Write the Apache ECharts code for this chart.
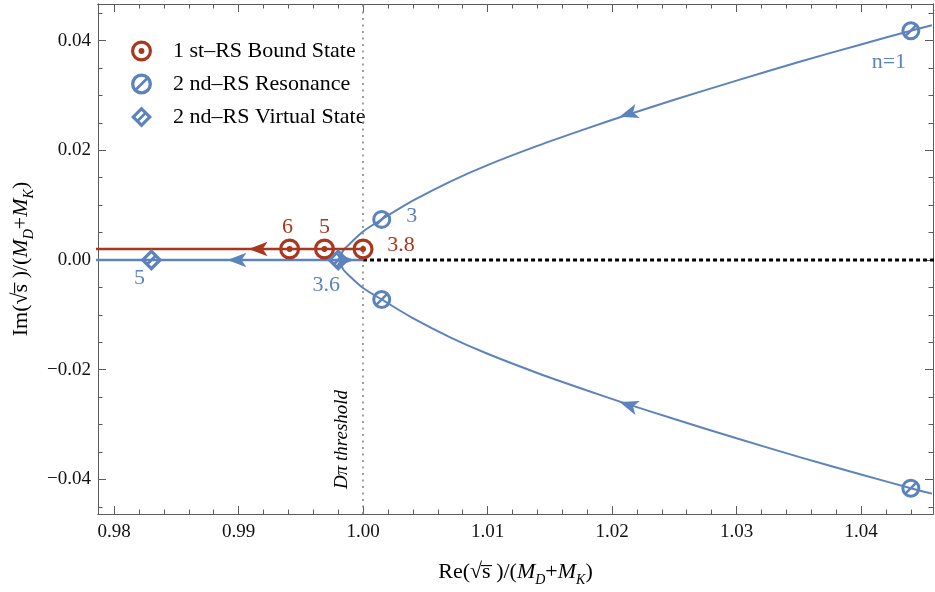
<!DOCTYPE html>
<html>
<head>
<meta charset="utf-8">
<script src="https://cdn.jsdelivr.net/npm/echarts@6/dist/echarts.min.js"></script>
<style>
html,body{margin:0;padding:0;background:#fff;}
#chart{width:935px;height:592px;}
</style>
</head>
<body>
<div id="chart"></div>
<script>
// ---------------- data ----------------
const xRange = [0.97871, 1.04578];
const yRange = [-0.04631, 0.04667];
const xTicks = [0.98, 0.99, 1.00, 1.01, 1.02, 1.03, 1.04];
const yTicks = [-0.04, -0.02, 0.00, 0.02, 0.04];
const xMinorStep = 0.002;
const yMinorStep = 0.005;
const threshold = 1.0;

// 2nd-RS resonance trajectory (upper and lower branches)
const upperX = [0.9981, 0.9984, 0.9990, 1.0000, 1.0015, 1.0040, 1.0070, 1.0100, 1.0140, 1.0180, 1.0210, 1.0250, 1.0300, 1.0350, 1.0400, 1.0440, 1.0457];
const upperY = [0.0000, 0.0017, 0.0031, 0.0052, 0.0074, 0.0108, 0.0143, 0.0173, 0.0208, 0.0240, 0.0263, 0.0292, 0.0327, 0.0361, 0.0393, 0.0418, 0.0428];
const lowerX = [0.9981, 0.9984, 0.9990, 1.0000, 1.0015, 1.0040, 1.0070, 1.0100, 1.0140, 1.0180, 1.0210, 1.0250, 1.0300, 1.0350, 1.0400, 1.0440, 1.0457];
const lowerY = [0.0000, -0.0017, -0.0031, -0.0051, -0.0072, -0.0106, -0.0141, -0.0171, -0.0206, -0.0238, -0.0261, -0.0290, -0.0325, -0.0359, -0.0391, -0.0416, -0.0426];
// virtual-state path on the real axis
const realAxisX = [0.9700, 0.9981, 1.0000];
const realAxisY = [0.0000, 0.0000, 0.0000];
// bound-state path (1st RS)
const boundLineX = [0.9700, 1.0000];
const boundLineY = [0.0020, 0.0020];
// threshold continuation (dashed)
const cutX = [1.0000, 1.0500];
const cutY = [0.0000, 0.0000];

// arrows
const blueArrowX = [1.0206, 1.0206, 0.9891, 0.9993];
const blueArrowY = [0.0261, -0.0259, 0.0000, 0.0000];
const redArrowX = [0.9908];
const redArrowY = [0.0020];

// poles
const boundX = [0.9941, 0.9969, 1.0000];
const boundY = [0.0020, 0.0020, 0.0020];
const boundLabels = ['6', '5', '3.8'];
const resX = [1.0440, 1.0015, 1.0015, 1.0440];
const resY = [0.0418, 0.0074, -0.0072, -0.0416];
const resLabels = ['n=1', '3', '', ''];
const virtX = [0.9830, 0.9980];
const virtY = [0.0000, 0.0000];
const virtLabels = ['5', '3.6'];

const seriesNames = ['1 st\u2013RS Bound State', '2 nd\u2013RS Resonance', '2 nd\u2013RS Virtual State'];

// ---------------- styles ----------------
const BLUE = '#5D83BD';
const RED = '#A8371D';
const FONT = "'Liberation Serif', 'DejaVu Serif', serif";
const blueArrowRot = [108, 72, 90, -90];
const redArrowRot = [90];
const boundOffsets = [[-2, -22], [0, -22], [38, -4]];
const resOffsets = [[-22, 32], [30, -3], [0, 0], [0, 0]];
const virtOffsets = [[-12, 18], [-12, 25]];

const TARGET = 'path://M50,0A50,50 0 1,1 50,100A50,50 0 1,1 50,0Z M50,15A35,35 0 1,0 50,85A35,35 0 1,0 50,15Z M50,36A14,14 0 1,1 50,64A14,14 0 1,1 50,36Z';
const RESON = 'path://M50,0A50,50 0 1,1 50,100A50,50 0 1,1 50,0Z M50,16A34,34 0 1,0 50,84A34,34 0 1,0 50,16Z M20.4,70.4L70.4,20.4L79.6,29.6L29.6,79.6Z';
const DIAM = 'path://M50,0L100,50L50,100L0,50Z M50,21L21,50L50,79L79,50Z M20.4,70.4L70.4,20.4L79.6,29.6L29.6,79.6Z';

function zip(xs, ys) { return xs.map((x, i) => [x, ys[i]]); }
function minors(range, step, majors) {
  const out = [];
  for (let k = Math.ceil(range[0] / step - 1e-9); k * step <= range[1] + 1e-12; k++) {
    const v = +(k * step).toFixed(5);
    if (!majors.some(m => Math.abs(m - v) < 1e-9)) out.push(v);
  }
  return out;
}
const xMinor = minors(xRange, xMinorStep, xTicks);
const yMinor = minors(yRange, yMinorStep, yTicks);

const frameColor = '#5a5a5a';
function fmtX(v) { return v.toFixed(2); }
function fmtY(v) { return (v < -1e-9 ? '\u2212' : '') + Math.abs(v).toFixed(2); }

const nameRich = {
  n: { fontSize: 22, fontFamily: FONT, color: '#000', lineHeight: 28, verticalAlign: 'bottom' },
  i: { fontSize: 22, fontFamily: FONT, fontStyle: 'italic', color: '#000', lineHeight: 28, verticalAlign: 'bottom' },
  sub: { fontSize: 14, fontFamily: FONT, fontStyle: 'italic', color: '#000', lineHeight: 28, verticalAlign: 'bottom', padding: [0, 0, -4, 0] }
};
const sqrtPart = '{n|(\u221As\u0305 )/(}{i|M}{sub|D}{n|+}{i|M}{sub|K}{n|)}';

function xAxisDef(pos, ticks, len, labels) {
  return {
    type: 'value', position: pos, min: xRange[0], max: xRange[1], gridIndex: 0,
    axisLine: { show: true, onZero: false, lineStyle: { color: frameColor, width: 1 } },
    axisTick: { show: true, inside: true, length: len, customValues: ticks, lineStyle: { color: frameColor, width: 1 } },
    axisLabel: labels ? { show: true, customValues: ticks, formatter: fmtX, fontSize: 19, fontFamily: FONT, color: '#111', margin: 9 } : { show: false },
    splitLine: { show: false }
  };
}
function yAxisDef(pos, ticks, len, labels) {
  return {
    type: 'value', position: pos, min: yRange[0], max: yRange[1], gridIndex: 0,
    axisLine: { show: true, onZero: false, lineStyle: { color: frameColor, width: 1 } },
    axisTick: { show: true, inside: true, length: len, customValues: ticks, lineStyle: { color: frameColor, width: 1 } },
    axisLabel: labels ? { show: true, customValues: ticks, formatter: fmtY, fontSize: 19, fontFamily: FONT, color: '#111', margin: 7 } : { show: false },
    splitLine: { show: false }
  };
}

const xAxes = [
  Object.assign(xAxisDef('bottom', xTicks, 8, true), {
    name: '{n|Re}' + sqrtPart, nameLocation: 'middle', nameGap: 41,
    nameTextStyle: { rich: nameRich }
  }),
  xAxisDef('bottom', xMinor, 4.5, false),
  xAxisDef('top', xTicks, 8, false),
  xAxisDef('top', xMinor, 4.5, false)
];
const yAxes = [
  Object.assign(yAxisDef('left', yTicks, 8, true), {
    name: '{n|Im}' + sqrtPart, nameLocation: 'middle', nameGap: 62, nameRotate: 90,
    nameTextStyle: { rich: nameRich }
  }),
  yAxisDef('left', yMinor, 4.5, false),
  yAxisDef('right', yTicks, 8, false),
  yAxisDef('right', yMinor, 4.5, false)
];

function lineSeries(data, color, width, extra) {
  return Object.assign({
    type: 'line', data: data, showSymbol: false, symbol: 'none', silent: true,
    lineStyle: { color: color, width: width }, itemStyle: { color: color }, z: 2, clip: true
  }, extra || {});
}
function arrowSeries(xs, ys, rots, color) {
  return {
    type: 'scatter', symbol: 'arrow', symbolSize: [11, 19], silent: true, z: 4,
    itemStyle: { color: color, opacity: 1 },
    data: xs.map((x, i) => ({ value: [x, ys[i]], symbolRotate: rots[i] }))
  };
}
function poleSeries(name, xs, ys, labels, offsets, symbol, size, color) {
  return {
    type: 'scatter', name: name, symbol: symbol, symbolSize: size, symbolKeepAspect: true, z: 5, silent: true,
    itemStyle: { color: color, opacity: 1 },
    label: { show: true, position: 'inside', formatter: p => p.name, color: color, fontSize: 22, fontFamily: FONT },
    data: xs.map((x, i) => ({ value: [x, ys[i]], name: labels[i], label: { offset: offsets[i] } }))
  };
}

const option = {
  animation: false,
  backgroundColor: '#fff',
  grid: { left: 98, right: 2, top: 4, bottom: 72, containLabel: false },
  xAxis: xAxes,
  yAxis: yAxes,
  legend: {
    orient: 'vertical', left: 126, top: 35, itemWidth: 21, itemHeight: 21, itemGap: 11,
    selectedMode: false,
    textStyle: { fontSize: 22, fontFamily: FONT, color: '#000', padding: [0, 0, 0, 16] },
    data: [
      { name: seriesNames[0], icon: TARGET },
      { name: seriesNames[1], icon: RESON },
      { name: seriesNames[2], icon: DIAM }
    ]
  },
  series: [
    lineSeries(zip(cutX, cutY), '#000', 3, {
      lineStyle: { color: '#000', width: 3, type: [4, 3] },
      markLine: {
        silent: true, symbol: ['none', 'none'],
        lineStyle: { color: '#808080', width: 1.5, type: [2, 4.5] },
        label: {
          show: true, position: 'insideStartTop', formatter: 'D\u03C0 threshold',
          fontStyle: 'italic', fontSize: 19, fontFamily: FONT, color: '#000', distance: [25, 12]
        },
        data: [{ xAxis: threshold }]
      }
    }),
    lineSeries(zip(upperX, upperY), BLUE, 2, { smooth: 0.3 }),
    lineSeries(zip(lowerX, lowerY), BLUE, 2, { smooth: 0.3 }),
    lineSeries(zip(realAxisX, realAxisY), BLUE, 2.5),
    lineSeries(zip(boundLineX, boundLineY), RED, 2.5),
    arrowSeries(blueArrowX, blueArrowY, blueArrowRot, BLUE),
    arrowSeries(redArrowX, redArrowY, redArrowRot, RED),
    poleSeries(seriesNames[0], boundX, boundY, boundLabels, boundOffsets, TARGET, 21, RED),
    poleSeries(seriesNames[1], resX, resY, resLabels, resOffsets, RESON, 19, BLUE),
    poleSeries(seriesNames[2], virtX, virtY, virtLabels, virtOffsets, DIAM, 22, BLUE)
  ]
};

const chart = echarts.init(document.getElementById('chart'), null, { renderer: 'canvas' });
chart.setOption(option);
</script>
</body>
</html>
